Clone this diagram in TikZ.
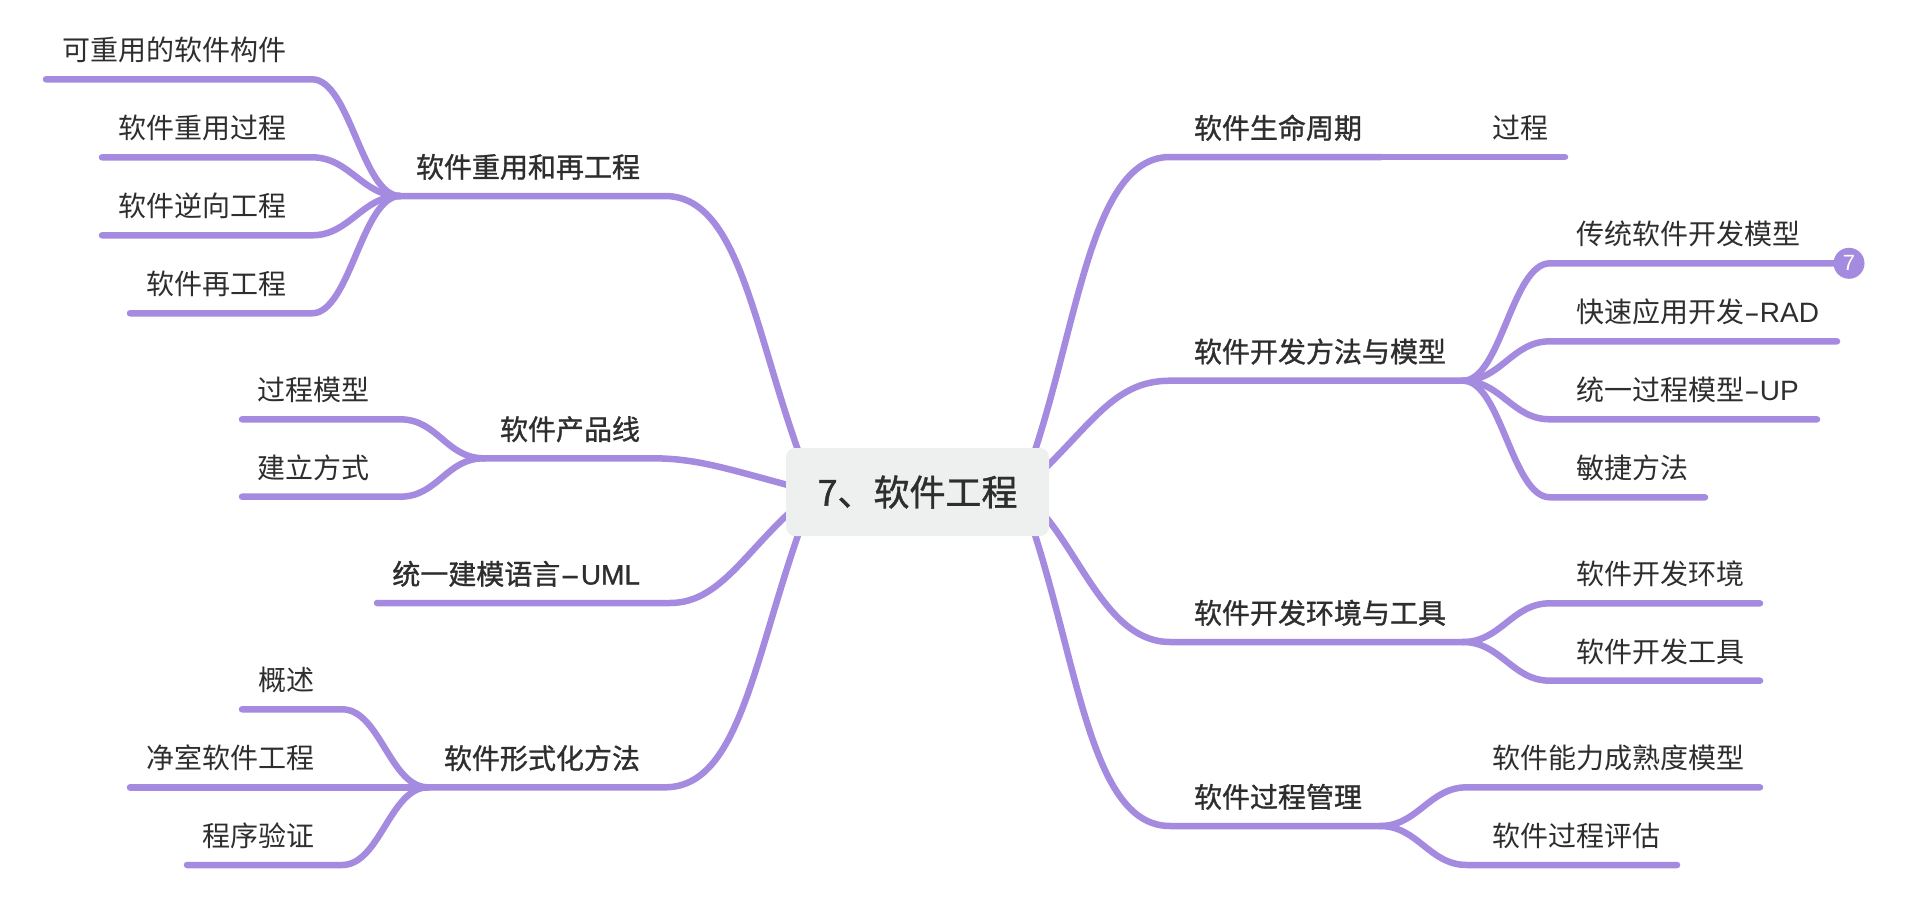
\documentclass[tikz,border=0pt]{standalone}
\usepackage{fontspec}
\usepackage{graphicx}
\setmainfont{Noto Sans CJK SC}
\newfontfamily\medfont[FakeBold=1.1]{Noto Sans CJK SC}
\newfontfamily\latfont{Liberation Sans}
\newfontfamily\latmed[FakeBold=1.1]{Liberation Sans}
\definecolor{branch}{HTML}{A58BE0}
\definecolor{rootfill}{HTML}{EEF0F0}
\definecolor{ink}{HTML}{2E2E2E}
\pgfdeclarelayer{bg}\pgfsetlayers{bg,main}
\newcommand\rlab[3]{\makebox[#1pt][l]{\hspace*{#2pt}#3}}
\newcommand\llab[3]{\makebox[#1pt][r]{#3\hspace*{#2pt}}}
\newcommand\lat[1]{{\latfont\scalebox{1.7}[1]{-}#1}}
\newcommand\latb[1]{{\latmed\scalebox{2.1}[1]{-}\kern1pt #1}}
\tikzset{
  topic/.style={inner sep=0pt,outer sep=0pt,text=ink,font=\fontsize{28}{28}\selectfont,text height=26pt,text depth=18.5pt},
  main/.style={topic,font=\fontsize{28}{28}\selectfont\medfont},
  edge/.style={draw=branch,line width=6.5pt,line cap=round,line join=round},
  rootbox/.style={fill=rootfill,rounded corners=9pt,minimum width=263pt,minimum height=88pt,inner sep=0pt,outer sep=0pt,text=ink,font=\fontsize{36}{36}\selectfont\medfont},
  badge/.style={circle,fill=branch,minimum size=31pt,inner sep=0pt,outer sep=0pt,text=white,font=\fontsize{22}{22}\selectfont\latfont}
}
\begin{document}
\begin{tikzpicture}[x=1pt,y=-1pt]
\useasboundingbox (0,0) rectangle (1930,902);
\node[rootbox] (root) at (917.5,492) {7、软件工程};
\coordinate (rr) at (1020,492);
\coordinate (rl) at (814,492);
% right main
\node[main,anchor=south west] (a) at (1170,157) {\rlab{211}{24}{软件生命周期}};
\node[main,anchor=south west] (b) at (1170,380.7) {\rlab{293}{24}{软件开发方法与模型}};
\node[main,anchor=south west] (c) at (1170,642) {\rlab{293}{24}{软件开发环境与工具}};
\node[main,anchor=south west] (d) at (1170,826) {\rlab{210}{24}{软件过程管理}};
% right leaves
\node[topic,anchor=south west] (a1) at (1381,157) {\rlab{184}{111}{过程}};
\node[topic,anchor=south west] (b1) at (1550,263.3) {\rlab{284}{26}{传统软件开发模型}};
\node[badge] (bb) at (1849,263.3) {7};
\node[topic,anchor=south west] (b2) at (1550,341.3) {\rlab{287}{26}{快速应用开发\lat{RAD}}};
\node[topic,anchor=south west] (b3) at (1550,419.3) {\rlab{267}{26}{统一过程模型\lat{UP}}};
\node[topic,anchor=south west] (b4) at (1550,497.3) {\rlab{155}{26}{敏捷方法}};
\node[topic,anchor=south west] (c1) at (1550,603.3) {\rlab{210}{26}{软件开发环境}};
\node[topic,anchor=south west] (c2) at (1550,680.7) {\rlab{210}{26}{软件开发工具}};
\node[topic,anchor=south west] (d1) at (1467,787.3) {\rlab{293}{25}{软件能力成熟度模型}};
\node[topic,anchor=south west] (d2) at (1467,865) {\rlab{210}{25}{软件过程评估}};
% left main
\node[main,anchor=south east] (e) at (665,196) {\llab{265}{25}{软件重用和再工程}};
\node[main,anchor=south east] (f) at (652,458.3) {\llab{168}{12}{软件产品线}};
\node[main,anchor=south east] (g) at (670,603) {\llab{293}{30}{统一建模语言\latb{UML}}};
\node[main,anchor=south east] (h) at (665,787.3) {\llab{237}{25}{软件形式化方法}};
% left leaves
\node[topic,anchor=south east] (e1) at (312,79.3) {\llab{266}{26}{可重用的软件构件}};
\node[topic,anchor=south east] (e2) at (312,157.3) {\llab{210}{26}{软件重用过程}};
\node[topic,anchor=south east] (e3) at (312,235.3) {\llab{210}{26}{软件逆向工程}};
\node[topic,anchor=south east] (e4) at (312,313.3) {\llab{182}{26}{软件再工程}};
\node[topic,anchor=south east] (f1) at (400,419.3) {\llab{158}{31}{过程模型}};
\node[topic,anchor=south east] (f2) at (400,496.7) {\llab{158}{31}{建立方式}};
\node[topic,anchor=south east] (h1) at (342,709.3) {\llab{100}{28}{概述}};
\node[topic,anchor=south east] (h2) at (342,787.3) {\llab{212}{28}{净室软件工程}};
\node[topic,anchor=south east] (h3) at (342,865) {\llab{155}{28}{程序验证}};
\begin{pgfonlayer}{bg}
% root to main
\draw[edge] (rr) .. controls (1077,350) and (1085,157) .. (a.south west) -- (a.south east);
\draw[edge] (rr) .. controls (1090,430) and (1110,380.7) .. (b.south west) -- (b.south east);
\draw[edge] (rr) .. controls (1075,530) and (1100,642) .. (c.south west) -- (c.south east);
\draw[edge] (rr) .. controls (1077,640) and (1085,826) .. (d.south west) -- (d.south east);
\draw[edge] (rl) .. controls (755,350) and (745,196) .. (e.south east) -- (e.south west);
\draw[edge] (rl) .. controls (730,470) and (700,458.3) .. (f.south east) -- (f.south west);
\draw[edge] (rl) .. controls (750,540) and (725,603) .. (g.south east) -- (g.south west);
\draw[edge] (rl) .. controls (755,640) and (745,787.3) .. (h.south east) -- (h.south west);
% main to leaves
\draw[edge] (a.south east) -- (a1.south west) -- (a1.south east);
\draw[edge] (b.south east) .. controls +(38,0) and +(-38,0) .. (b1.south west) -- (b1.south east) -- (bb);
\draw[edge] (b.south east) .. controls +(38,0) and +(-38,0) .. (b2.south west) -- (b2.south east);
\draw[edge] (b.south east) .. controls +(38,0) and +(-38,0) .. (b3.south west) -- (b3.south east);
\draw[edge] (b.south east) .. controls +(38,0) and +(-38,0) .. (b4.south west) -- (b4.south east);
\draw[edge] (c.south east) .. controls +(38,0) and +(-38,0) .. (c1.south west) -- (c1.south east);
\draw[edge] (c.south east) .. controls +(38,0) and +(-38,0) .. (c2.south west) -- (c2.south east);
\draw[edge] (d.south east) .. controls +(38,0) and +(-38,0) .. (d1.south west) -- (d1.south east);
\draw[edge] (d.south east) .. controls +(38,0) and +(-38,0) .. (d2.south west) -- (d2.south east);
\draw[edge] (e.south west) .. controls +(-38,0) and +(38,0) .. (e1.south east) -- (e1.south west);
\draw[edge] (e.south west) .. controls +(-38,0) and +(38,0) .. (e2.south east) -- (e2.south west);
\draw[edge] (e.south west) .. controls +(-38,0) and +(38,0) .. (e3.south east) -- (e3.south west);
\draw[edge] (e.south west) .. controls +(-38,0) and +(38,0) .. (e4.south east) -- (e4.south west);
\draw[edge] (f.south west) .. controls +(-38,0) and +(38,0) .. (f1.south east) -- (f1.south west);
\draw[edge] (f.south west) .. controls +(-38,0) and +(38,0) .. (f2.south east) -- (f2.south west);
\draw[edge] (h.south west) .. controls +(-38,0) and +(38,0) .. (h1.south east) -- (h1.south west);
\draw[edge] (h.south west) .. controls +(-38,0) and +(38,0) .. (h2.south east) -- (h2.south west);
\draw[edge] (h.south west) .. controls +(-38,0) and +(38,0) .. (h3.south east) -- (h3.south west);
\end{pgfonlayer}
\end{tikzpicture}
\end{document}
